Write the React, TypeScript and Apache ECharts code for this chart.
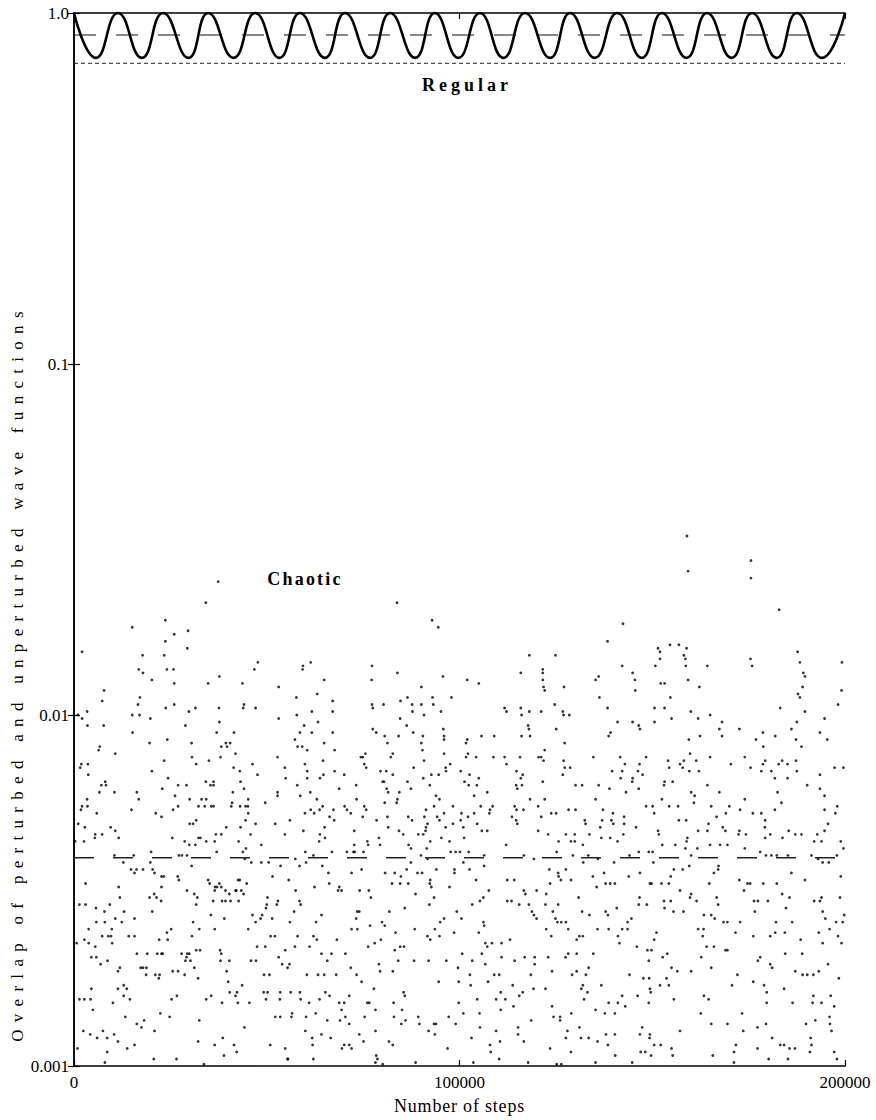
import React, { useEffect, useRef } from "react";
import * as echarts from "echarts";

// ---------- data ----------
const xTickLabels = ["0", "100000", "200000"];
const yTickLabels: Record<string, string> = { "0": "1.0", "-1": "0.1", "-2": "0.01", "-3": "0.001" };

// Regular trajectory: successive maxima / minima (in thousands of steps)
const regularStepsK = [
  0, 5.7, 11.4, 17.6, 23.1, 29.7, 34.8, 41.4, 47.0, 53.3, 58.6, 65.1, 70.3, 76.8, 82.0, 88.5, 93.6,
  99.7, 105.3, 111.4, 117.0, 123.5, 128.7, 135.1, 140.9, 147.3, 152.5, 158.9, 164.2, 170.6, 175.9,
  182.3, 187.5, 194.0, 200,
];
const regularOverlap = [
  1.0, 0.745, 1.0, 0.745, 1.0, 0.745, 1.0, 0.745, 1.0, 0.745, 1.0, 0.745, 1.0, 0.745, 1.0, 0.745, 1.0,
  0.745, 1.0, 0.745, 1.0, 0.745, 1.0, 0.745, 1.0, 0.745, 1.0, 0.745, 1.0, 0.745, 1.0, 0.745, 1.0, 0.745, 1.0,
];
const regularMean = 0.866;
const regularFloor = 0.719;
const chaoticMean = 0.00392;

// Chaotic trajectory: [steps / 1000, log10(overlap)]
const chaoticSamples: [number, number][] = [
  [37.4,-1.62],[34.2,-1.68],[83.8,-1.68],[159.0,-1.49],[175.6,-1.56],[159.3,-1.59],[175.6,-1.61],[182.9,-1.70],
  [23.7,-1.73],[15.1,-1.75],[29.6,-1.76],[26.0,-1.77],[23.7,-1.79],[29.4,-1.81],[2.1,-1.82],[17.8,-1.83],[23.4,-1.83],[47.7,-1.85],[16.8,-1.87],[25.8,-1.87],[46.8,-1.87],[24.1,-1.87],[17.9,-1.88],[20.2,-1.90],[37.7,-1.89],[26.0,-1.91],[34.8,-1.91],[43.7,-1.91],[7.8,-1.93],[17.1,-1.95],[7.3,-1.96],[16.6,-1.97],[44.1,-1.97],[26.0,-1.97],[31.5,-1.98],[37.6,-1.98],[23.8,-1.98],[29.8,-1.99],[43.9,-1.98],[47.1,-1.98],[3.4,-1.99],[15.1,-2.00],[17.0,-2.00],[1.0,-2.00],[2.1,-2.01],[19.8,-2.01],[37.7,-2.02],[28.9,-2.03],[3.5,-2.03],[7.7,-2.03],[15.2,-2.05],[37.0,-2.05],[41.5,-2.05],[24.2,-2.07],[30.5,-2.08],[19.6,-2.08],[38.2,-2.09],[39.4,-2.08],[40.5,-2.08],[39.7,-2.09],[6.7,-2.09],[6.4,-2.10],[10.7,-2.11],[41.9,-2.11],[23.4,-2.13],[30.6,-2.12],[35.0,-2.13],[38.0,-2.12],[1.9,-2.14],[3.6,-2.14],[1.6,-2.15],[31.7,-2.14],[46.3,-2.14],[41.4,-2.15],[43.0,-2.16],[20.2,-2.16],[3.7,-2.17],[47.6,-2.17],[24.4,-2.18],[8.1,-2.19],[34.2,-2.19],[36.2,-2.19],[35.4,-2.20],[36.2,-2.20],[27.0,-2.20],[29.2,-2.20],[43.2,-2.19],[44.1,-2.21],[7.1,-2.20],[8.3,-2.20],[10.5,-2.22],[16.3,-2.22],[22.9,-2.21],[6.6,-2.22],[26.2,-2.23],[3.4,-2.24],[41.2,-2.22],[16.8,-2.24],[45.2,-2.24],[33.1,-2.24],[34.3,-2.24],[30.0,-2.24],[49.6,-2.25],[41.0,-2.25],[2.1,-2.26],[3.5,-2.26],[1.8,-2.27],[5.9,-2.28],[14.9,-2.27],[25.7,-2.27],[27.0,-2.26],[32.3,-2.26],[33.9,-2.26],[35.6,-2.26],[36.2,-2.26],[40.8,-2.26],[43.1,-2.26],[44.5,-2.26],[45.1,-2.26],[45.2,-2.28],[21.2,-2.28],[22.7,-2.29],[31.7,-2.30],[30.9,-2.31],[30.0,-2.31],[1.1,-2.31],[2.8,-2.32],[9.5,-2.32],[10.7,-2.33],[44.5,-2.30],[43.2,-2.32],[47.1,-2.31],[39.5,-2.32],[5.5,-2.34],[5.4,-2.35],[7.3,-2.34],[11.6,-2.35],[25.5,-2.35],[28.7,-2.36],[32.3,-2.35],[32.8,-2.35],[34.3,-2.36],[36.8,-2.34],[38.2,-2.34],[36.5,-2.36],[0.3,-2.36],[2.6,-2.36],[42.7,-2.36],[45.8,-2.34],[48.6,-2.37],[31.5,-2.37],[29.9,-2.37],[44.6,-2.38],[20.0,-2.39],[28.0,-2.40],[29.3,-2.40],[37.0,-2.39],[15.5,-2.40],[27.2,-2.40],[43.8,-2.39],[10.5,-2.40],[12.8,-2.42],[14.8,-2.44],[19.8,-2.42],[17.9,-2.44],[16.2,-2.44],[30.5,-2.43],[44.3,-2.41],[46.0,-2.42],[48.6,-2.42],[20.4,-2.44],[20.9,-2.45],[15.7,-2.45],[22.7,-2.46],[23.3,-2.46],[26.9,-2.46],[27.2,-2.47],[34.8,-2.47],[42.6,-2.47],[43.0,-2.47],[44.8,-2.48],[35.2,-2.48],[36.6,-2.49],[37.1,-2.49],[37.7,-2.48],[38.2,-2.49],[3.0,-2.48],[11.6,-2.49],[22.7,-2.49],[29.3,-2.50],[31.2,-2.51],[32.0,-2.52],[36.5,-2.50],[39.3,-2.50],[40.3,-2.51],[42.1,-2.50],[43.4,-2.50],[41.9,-2.50],[44.0,-2.51],[11.9,-2.52],[19.6,-2.52],[20.8,-2.51],[21.4,-2.52],[22.6,-2.53],[1.4,-2.54],[3.0,-2.54],[5.7,-2.55],[9.3,-2.54],[36.1,-2.53],[38.4,-2.53],[39.3,-2.53],[40.6,-2.53],[42.7,-2.53],[31.7,-2.54],[50.0,-2.54],[49.8,-2.55],[7.9,-2.56],[13.0,-2.56],[20.3,-2.56],[10.7,-2.58],[15.7,-2.58],[35.5,-2.57],[39.0,-2.58],[46.3,-2.57],[48.4,-2.58],[47.1,-2.59],[48.8,-2.57],[3.8,-2.61],[5.8,-2.59],[8.0,-2.59],[9.8,-2.61],[12.4,-2.59],[30.9,-2.59],[24.1,-2.62],[25.2,-2.61],[32.5,-2.61],[36.5,-2.61],[0.7,-2.65],[2.7,-2.64],[5.5,-2.66],[7.3,-2.63],[9.6,-2.63],[8.9,-2.63],[9.9,-2.65],[14.2,-2.63],[15.7,-2.63],[22.1,-2.64],[24.3,-2.64],[30.6,-2.63],[45.2,-2.61],[3.8,-2.65],[4.5,-2.69],[5.8,-2.69],[6.9,-2.71],[8.7,-2.70],[11.9,-2.72],[11.4,-2.73],[16.3,-2.68],[19.0,-2.68],[21.6,-2.68],[22.7,-2.68],[23.0,-2.68],[18.8,-2.72],[17.9,-2.72],[17.3,-2.72],[18.7,-2.74],[21.1,-2.74],[22.2,-2.74],[22.0,-2.75],[27.9,-2.68],[29.4,-2.68],[29.9,-2.68],[29.2,-2.69],[30.2,-2.70],[28.9,-2.70],[31.2,-2.72],[31.7,-2.67],[32.7,-2.67],[37.9,-2.67],[38.2,-2.68],[40.3,-2.70],[39.6,-2.73],[38.0,-2.70],[45.9,-2.70],[47.2,-2.70],[47.5,-2.66],[49.6,-2.66],[49.3,-2.74],[27.0,-2.73],[25.6,-2.73],[32.2,-2.75],[28.7,-2.74],[1.4,-2.81],[2.7,-2.81],[4.3,-2.81],[4.9,-2.84],[4.5,-2.78],[10.1,-2.82],[12.9,-2.77],[13.7,-2.78],[12.9,-2.80],[14.5,-2.81],[11.4,-2.78],[25.3,-2.81],[26.7,-2.80],[34.3,-2.81],[35.6,-2.80],[38.4,-2.82],[40.0,-2.76],[40.4,-2.79],[41.9,-2.80],[42.5,-2.82],[42.3,-2.79],[43.6,-2.77],[45.5,-2.82],[49.2,-2.79],[49.8,-2.81],[13.3,-2.86],[16.3,-2.88],[18.2,-2.87],[17.5,-2.89],[20.9,-2.90],[22.4,-2.85],[24.8,-2.86],[32.5,-2.87],[44.2,-2.89],[2.4,-2.90],[4.2,-2.91],[6.0,-2.92],[7.5,-2.90],[8.6,-2.92],[10.4,-2.91],[11.4,-2.93],[13.8,-2.95],[15.7,-2.94],[8.6,-2.96],[8.0,-2.99],[0.9,-2.95],[20.7,-2.98],[26.6,-2.98],[32.2,-2.93],[36.5,-2.94],[38.6,-2.92],[41.5,-2.94],[42.2,-2.96],[38.9,-2.97],[33.7,-2.995],
  [92.9,-1.73],[94.5,-1.75],[61.4,-1.85],[59.4,-1.86],[59.3,-1.87],[77.3,-1.86],[83.9,-1.88],[64.9,-1.90],[77.2,-1.90],[95.7,-1.89],[53.1,-1.92],[90.1,-1.92],[63.1,-1.94],[57.7,-1.95],[67.1,-1.96],[86.5,-1.95],[84.7,-1.96],[93.0,-1.95],[97.9,-1.95],[77.3,-1.97],[77.5,-1.98],[80.3,-1.97],[87.7,-1.97],[90.1,-1.97],[93.2,-1.97],[61.7,-1.99],[87.8,-1.99],[90.8,-2.00],[95.2,-1.99],[67.1,-1.99],[57.8,-2.00],[53.1,-2.01],[84.6,-2.01],[63.3,-2.02],[77.5,-2.04],[59.7,-2.03],[86.3,-2.03],[58.6,-2.05],[61.7,-2.05],[67.1,-2.05],[78.4,-2.05],[80.6,-2.06],[84.2,-2.06],[88.0,-2.05],[95.8,-2.04],[96.0,-2.06],[96.0,-2.07],[57.3,-2.07],[90.5,-2.06],[58.0,-2.09],[59.2,-2.09],[64.9,-2.08],[81.3,-2.08],[90.1,-2.08],[60.5,-2.10],[67.6,-2.10],[90.4,-2.10],[52.8,-2.12],[74.4,-2.12],[74.9,-2.12],[75.6,-2.11],[82.2,-2.12],[82.7,-2.11],[90.8,-2.13],[96.0,-2.11],[59.9,-2.14],[64.6,-2.13],[54.7,-2.15],[75.3,-2.14],[75.8,-2.15],[97.6,-2.14],[60.5,-2.16],[67.6,-2.16],[79.5,-2.16],[81.0,-2.16],[82.7,-2.17],[88.1,-2.15],[96.4,-2.15],[96.5,-2.16],[54.9,-2.18],[60.5,-2.18],[63.8,-2.18],[64.7,-2.17],[70.1,-2.17],[94.6,-2.17],[92.7,-2.17],[90.6,-2.18],[57.9,-2.20],[80.1,-2.19],[80.4,-2.19],[81.1,-2.21],[81.5,-2.22],[73.2,-2.20],[68.8,-2.21],[86.5,-2.19],[87.4,-2.21],[92.3,-2.20],[52.8,-2.22],[52.8,-2.23],[61.3,-2.22],[58.7,-2.23],[84.4,-2.22],[93.9,-2.23],[63.0,-2.24],[73.3,-2.24],[83.9,-2.24],[83.7,-2.25],[80.6,-2.25],[94.8,-2.24],[61.4,-2.27],[64.5,-2.26],[62.3,-2.28],[63.7,-2.27],[67.3,-2.27],[70.2,-2.26],[70.8,-2.27],[71.8,-2.28],[75.3,-2.26],[75.8,-2.27],[74.9,-2.29],[59.9,-2.28],[66.3,-2.29],[91.3,-2.27],[93.4,-2.26],[98.3,-2.26],[56.0,-2.30],[67.5,-2.30],[78.5,-2.30],[81.3,-2.29],[86.7,-2.29],[87.7,-2.30],[90.9,-2.29],[94.2,-2.29],[94.8,-2.30],[96.0,-2.28],[52.2,-2.31],[65.0,-2.32],[81.5,-2.32],[91.7,-2.31],[91.3,-2.32],[96.4,-2.32],[98.3,-2.31],[59.5,-2.33],[54.7,-2.34],[72.7,-2.33],[84.3,-2.33],[85.4,-2.34],[89.3,-2.34],[90.6,-2.34],[91.2,-2.33],[63.8,-2.34],[65.1,-2.35],[79.1,-2.35],[63.6,-2.36],[72.7,-2.37],[76.1,-2.36],[79.4,-2.37],[86.8,-2.37],[87.4,-2.38],[92.4,-2.36],[95.3,-2.35],[97.4,-2.36],[99.0,-2.39],[97.7,-2.39],[60.0,-2.39],[62.1,-2.40],[66.9,-2.39],[70.8,-2.39],[72.5,-2.39],[72.8,-2.39],[75.1,-2.39],[76.3,-2.37],[91.5,-2.38],[90.0,-2.40],[50.5,-2.42],[53.6,-2.43],[57.4,-2.41],[58.5,-2.43],[60.2,-2.42],[64.4,-2.43],[66.0,-2.45],[72.0,-2.45],[74.6,-2.44],[80.7,-2.45],[83.2,-2.45],[84.8,-2.46],[86.3,-2.44],[87.4,-2.42],[89.1,-2.45],[90.3,-2.45],[91.7,-2.41],[94.0,-2.44],[98.7,-2.44],[98.7,-2.45],[51.5,-2.46],[55.7,-2.47],[62.4,-2.49],[66.2,-2.48],[68.8,-2.49],[68.5,-2.50],[69.4,-2.50],[74.1,-2.50],[76.5,-2.50],[77.0,-2.52],[82.5,-2.48],[84.6,-2.48],[86.7,-2.48],[88.6,-2.51],[92.4,-2.47],[92.3,-2.48],[92.7,-2.49],[93.4,-2.52],[97.4,-2.49],[57.5,-2.50],[50.2,-2.52],[52.9,-2.53],[52.6,-2.54],[58.5,-2.53],[58.8,-2.54],[57.1,-2.56],[64.2,-2.57],[62.8,-2.59],[73.5,-2.56],[74.0,-2.56],[73.2,-2.58],[76.8,-2.60],[79.9,-2.59],[80.6,-2.60],[81.8,-2.56],[85.8,-2.55],[92.2,-2.54],[95.0,-2.59],[96.0,-2.58],[99.3,-2.56],[51.4,-2.58],[56.0,-2.59],[51.0,-2.63],[52.1,-2.63],[58.0,-2.63],[62.1,-2.63],[63.0,-2.64],[68.2,-2.64],[72.0,-2.61],[73.5,-2.61],[78.0,-2.65],[76.3,-2.66],[79.6,-2.64],[83.4,-2.62],[88.4,-2.61],[91.7,-2.63],[92.4,-2.64],[94.8,-2.63],[93.6,-2.61],[98.6,-2.62],[57.3,-2.66],[61.1,-2.66],[54.8,-2.67],[53.1,-2.69],[54.0,-2.71],[55.9,-2.71],[55.4,-2.72],[50.7,-2.74],[60.4,-2.74],[63.3,-2.74],[64.9,-2.74],[64.2,-2.68],[66.8,-2.68],[70.4,-2.68],[65.7,-2.70],[71.8,-2.72],[68.0,-2.74],[73.3,-2.74],[74.6,-2.76],[79.1,-2.71],[79.4,-2.73],[82.7,-2.73],[83.2,-2.67],[84.6,-2.66],[85.6,-2.66],[88.2,-2.70],[84.1,-2.70],[92.0,-2.70],[94.6,-2.76],[96.6,-2.70],[99.6,-2.72],[99.8,-2.76],[50.2,-2.79],[53.5,-2.79],[56.2,-2.79],[58.6,-2.79],[53.4,-2.81],[58.8,-2.81],[61.0,-2.82],[63.7,-2.81],[65.2,-2.79],[66.3,-2.80],[68.8,-2.82],[70.1,-2.82],[71.4,-2.80],[76.6,-2.82],[76.1,-2.82],[77.8,-2.78],[82.9,-2.82],[85.8,-2.80],[85.5,-2.79],[52.2,-2.86],[53.5,-2.86],[56.6,-2.85],[56.4,-2.86],[60.2,-2.86],[62.7,-2.85],[65.7,-2.87],[69.0,-2.87],[69.4,-2.84],[70.4,-2.86],[71.4,-2.88],[75.4,-2.86],[78.2,-2.84],[83.0,-2.86],[85.1,-2.84],[86.0,-2.87],[84.9,-2.88],[89.3,-2.86],[89.6,-2.88],[93.4,-2.88],[93.9,-2.88],[97.2,-2.86],[99.0,-2.88],[99.8,-2.82],[60.0,-2.90],[61.8,-2.92],[64.2,-2.91],[66.6,-2.92],[61.9,-2.94],[50.9,-2.94],[54.8,-2.95],[69.5,-2.95],[70.1,-2.94],[71.4,-2.94],[72.0,-2.95],[74.0,-2.91],[75.1,-2.93],[78.2,-2.90],[81.7,-2.93],[82.7,-2.94],[92.0,-2.90],[93.6,-2.91],[96.9,-2.95],[55.4,-2.98],[55.5,-2.98],[62.1,-2.98],[78.4,-2.97],[78.7,-2.98],[78.2,-2.99],[88.6,-2.99],[80.1,-2.995],
  [142.4,-1.74],[138.4,-1.79],[124.9,-1.83],[118.1,-1.83],[142.2,-1.86],[121.6,-1.87],[121.6,-1.88],[115.9,-1.88],[102.0,-1.90],[105.0,-1.91],[121.6,-1.90],[135.3,-1.90],[136.1,-1.89],[127.1,-1.92],[121.8,-1.92],[122.1,-1.93],[144.9,-1.88],[145.5,-1.90],[145.6,-1.93],[136.3,-1.95],[138.4,-1.98],[111.7,-1.98],[112.2,-1.99],[115.9,-1.98],[116.1,-2.00],[118.1,-1.99],[121.2,-1.99],[124.7,-1.97],[126.8,-1.99],[127.0,-2.00],[128.5,-2.00],[141.0,-2.02],[144.9,-2.02],[146.5,-2.03],[146.8,-2.04],[117.8,-2.03],[118.0,-2.04],[125.1,-2.04],[139.2,-2.05],[138.7,-2.06],[127.3,-2.08],[105.7,-2.06],[109.0,-2.06],[116.1,-2.06],[118.3,-2.06],[102.0,-2.07],[101.7,-2.08],[102.2,-2.11],[101.7,-2.12],[104.3,-2.12],[108.8,-2.12],[111.7,-2.12],[112.2,-2.14],[115.7,-2.12],[120.5,-2.12],[122.1,-2.10],[121.2,-2.12],[121.8,-2.13],[127.0,-2.13],[127.3,-2.15],[128.7,-2.15],[134.7,-2.12],[141.7,-2.12],[142.9,-2.14],[100.3,-2.16],[102.6,-2.17],[101.3,-2.19],[102.4,-2.20],[105.0,-2.18],[104.5,-2.20],[103.8,-2.23],[107.2,-2.22],[114.8,-2.16],[116.4,-2.17],[115.9,-2.18],[114.7,-2.20],[116.2,-2.20],[115.0,-2.21],[121.6,-2.19],[126.8,-2.17],[130.1,-2.20],[131.8,-2.20],[136.1,-2.20],[139.6,-2.16],[142.2,-2.16],[141.8,-2.18],[144.8,-2.19],[144.9,-2.18],[146.3,-2.16],[146.7,-2.14],[148.4,-2.12],[147.5,-2.17],[146.5,-2.21],[143.2,-2.22],[138.9,-2.21],[118.3,-2.24],[122.1,-2.24],[135.3,-2.24],[148.4,-2.26],[105.5,-2.26],[107.9,-2.27],[108.6,-2.26],[114.3,-2.26],[114.8,-2.27],[116.6,-2.27],[120.4,-2.26],[128.3,-2.27],[130.1,-2.27],[137.2,-2.27],[139.8,-2.28],[100.5,-2.28],[102.2,-2.29],[103.8,-2.28],[107.75,-2.28],[100.3,-2.30],[101.0,-2.32],[104.6,-2.31],[113.6,-2.29],[114.7,-2.30],[115.0,-2.31],[121.2,-2.29],[123.8,-2.28],[125.05,-2.28],[132.5,-2.30],[132.7,-2.31],[137.0,-2.30],[139.4,-2.30],[139.9,-2.31],[142.7,-2.29],[142.7,-2.31],[145.8,-2.32],[136.5,-2.32],[101.2,-2.35],[105.8,-2.33],[107.2,-2.33],[120.4,-2.33],[123.0,-2.34],[127.6,-2.34],[129.9,-2.34],[128.9,-2.36],[129.9,-2.36],[132.0,-2.37],[133.7,-2.34],[136.8,-2.35],[139.1,-2.35],[141.0,-2.36],[142.5,-2.34],[125.7,-2.36],[112.1,-2.37],[100.1,-2.39],[102.4,-2.39],[106.4,-2.40],[116.7,-2.40],[119.3,-2.41],[125.2,-2.39],[129.4,-2.40],[133.4,-2.40],[135.9,-2.41],[144.1,-2.40],[146.5,-2.39],[149.1,-2.39],[101.0,-2.42],[102.6,-2.44],[104.3,-2.47],[106.4,-2.43],[112.4,-2.47],[114.2,-2.47],[123.3,-2.44],[123.5,-2.48],[125.6,-2.45],[125.7,-2.46],[126.3,-2.47],[127.6,-2.44],[128.9,-2.47],[132.1,-2.42],[134.6,-2.46],[135.6,-2.49],[137.5,-2.45],[137.9,-2.48],[139.1,-2.48],[140.3,-2.48],[140.1,-2.42],[143.9,-2.46],[146.8,-2.45],[149.4,-2.48],[116.7,-2.50],[117.1,-2.51],[120.0,-2.50],[122.5,-2.51],[130.9,-2.52],[107.6,-2.50],[106.2,-2.52],[105.3,-2.53],[103.3,-2.54],[112.4,-2.53],[113.5,-2.53],[115.5,-2.54],[118.0,-2.54],[122.3,-2.54],[125.6,-2.54],[118.8,-2.56],[119.3,-2.57],[120.0,-2.58],[124.2,-2.56],[124.9,-2.58],[125.4,-2.59],[126.4,-2.59],[127.6,-2.59],[131.8,-2.56],[133.7,-2.57],[137.9,-2.56],[138.5,-2.57],[140.8,-2.55],[146.7,-2.52],[146.5,-2.54],[148.6,-2.54],[100.5,-2.58],[106.2,-2.59],[106.4,-2.60],[122.5,-2.61],[123.8,-2.63],[128.2,-2.61],[130.4,-2.64],[131.1,-2.63],[132.0,-2.63],[135.8,-2.61],[138.7,-2.61],[142.2,-2.61],[143.6,-2.61],[143.6,-2.59],[144.6,-2.58],[105.0,-2.62],[141.1,-2.63],[141.5,-2.65],[106.7,-2.65],[107.2,-2.66],[108.4,-2.65],[110.9,-2.65],[113.1,-2.64],[100.7,-2.68],[105.8,-2.68],[110.9,-2.69],[114.3,-2.70],[116.9,-2.69],[119.5,-2.69],[119.5,-2.71],[123.0,-2.69],[124.0,-2.73],[127.5,-2.69],[128.2,-2.68],[130.4,-2.68],[134.7,-2.68],[133.5,-2.72],[146.0,-2.66],[148.75,-2.67],[149.1,-2.70],[103.3,-2.70],[106.7,-2.71],[102.7,-2.74],[102.9,-2.77],[107.4,-2.76],[109.0,-2.74],[110.3,-2.74],[113.8,-2.77],[118.5,-2.74],[119.2,-2.78],[122.3,-2.78],[129.2,-2.74],[130.4,-2.73],[132.8,-2.74],[132.0,-2.77],[131.6,-2.78],[133.2,-2.79],[132.3,-2.81],[136.8,-2.77],[142.2,-2.80],[144.1,-2.74],[147.7,-2.75],[149.4,-2.78],[104.6,-2.81],[110.7,-2.79],[109.5,-2.81],[111.9,-2.81],[115.5,-2.80],[116.4,-2.79],[101.0,-2.85],[105.2,-2.85],[110.7,-2.84],[114.0,-2.83],[124.0,-2.83],[124.4,-2.86],[126.1,-2.86],[129.0,-2.85],[135.3,-2.84],[137.7,-2.85],[138.7,-2.82],[140.3,-2.85],[141.1,-2.82],[143.0,-2.83],[146.2,-2.80],[149.1,-2.82],[126.1,-2.87],[118.6,-2.87],[105.3,-2.89],[109.5,-2.90],[115.2,-2.89],[103.1,-2.92],[115.2,-2.91],[116.7,-2.93],[107.9,-2.94],[110.5,-2.93],[108.1,-2.96],[110.3,-2.98],[128.0,-2.90],[127.6,-2.92],[131.1,-2.89],[131.5,-2.92],[133.5,-2.92],[135.8,-2.93],[138.0,-2.91],[140.3,-2.91],[138.5,-2.94],[140.4,-2.97],[128.9,-2.96],[123.5,-2.95],[146.8,-2.91],[147.4,-2.89],[149.3,-2.92],[147.0,-2.96],[148.2,-2.96],[103.6,-2.99],[117.8,-2.99],[125.2,-2.995],[126.4,-2.995],[135.3,-2.99],[144.8,-2.99],
  [151.5,-1.81],[154.6,-1.80],[156.9,-1.80],[158.9,-1.81],[152.0,-1.82],[152.0,-1.84],[158.2,-1.83],[158.6,-1.84],[158.7,-1.86],[150.8,-1.86],[164.3,-1.86],[175.5,-1.84],[175.9,-1.86],[187.7,-1.82],[188.3,-1.85],[189.2,-1.88],[189.6,-1.89],[199.2,-1.85],[152.2,-1.91],[153.2,-1.91],[159.3,-1.90],[162.2,-1.92],[189.0,-1.92],[154.7,-1.95],[187.8,-1.94],[188.3,-1.95],[199.1,-1.93],[150.6,-1.98],[153.2,-1.98],[183.2,-1.98],[198.2,-1.97],[160.0,-1.99],[161.9,-2.01],[165.0,-2.00],[189.6,-1.99],[150.6,-2.02],[155.0,-2.01],[168.1,-2.02],[167.4,-2.04],[168.1,-2.06],[172.6,-2.04],[162.4,-2.06],[159.5,-2.07],[178.7,-2.05],[176.9,-2.07],[178.8,-2.09],[181.9,-2.06],[186.1,-2.04],[187.5,-2.02],[187.3,-2.07],[188.7,-2.09],[193.5,-2.05],[194.7,-2.01],[195.4,-2.07],[154.1,-2.13],[154.4,-2.15],[157.2,-2.14],[158.2,-2.13],[157.9,-2.15],[159.8,-2.11],[161.4,-2.13],[159.6,-2.16],[162.1,-2.16],[165.0,-2.12],[170.4,-2.14],[174.0,-2.12],[175.5,-2.15],[178.7,-2.14],[179.3,-2.13],[178.3,-2.16],[180.9,-2.16],[182.8,-2.14],[183.7,-2.13],[185.1,-2.14],[187.3,-2.13],[187.5,-2.16],[181.8,-2.18],[185.1,-2.18],[193.5,-2.17],[197.3,-2.15],[199.6,-2.15],[153.2,-2.19],[153.05,-2.20],[155.3,-2.19],[164.3,-2.20],[160.1,-2.22],[161.0,-2.23],[160.8,-2.25],[167.4,-2.22],[174.0,-2.24],[182.5,-2.22],[183.5,-2.25],[190.2,-2.20],[193.5,-2.21],[194.7,-2.23],[150.1,-2.26],[150.5,-2.28],[152.5,-2.24],[154.4,-2.26],[156.7,-2.26],[165.3,-2.26],[170.0,-2.26],[169.1,-2.28],[172.8,-2.27],[176.1,-2.28],[178.3,-2.28],[181.8,-2.27],[194.7,-2.27],[198.0,-2.26],[197.5,-2.28],[156.9,-2.30],[158.8,-2.30],[161.9,-2.33],[164.6,-2.31],[166.7,-2.29],[168.3,-2.32],[169.0,-2.33],[179.3,-2.30],[179.2,-2.32],[159.1,-2.35],[164.3,-2.33],[172.6,-2.33],[172.4,-2.34],[174.3,-2.34],[180.6,-2.34],[183.8,-2.35],[185.4,-2.33],[187.1,-2.34],[188.7,-2.34],[192.8,-2.34],[194.7,-2.33],[195.6,-2.31],[151.5,-2.33],[151.7,-2.34],[152.6,-2.37],[156.0,-2.37],[158.9,-2.36],[165.0,-2.37],[167.6,-2.37],[169.5,-2.37],[174.0,-2.38],[179.3,-2.35],[192.0,-2.36],[193.9,-2.36],[198.9,-2.36],[199.6,-2.38],[150.1,-2.39],[158.6,-2.38],[160.1,-2.40],[161.7,-2.38],[178.0,-2.39],[179.5,-2.40],[180.9,-2.40],[182.3,-2.40],[185.2,-2.40],[191.3,-2.40],[193.0,-2.41],[194.2,-2.42],[195.8,-2.42],[197.9,-2.40],[150.3,-2.42],[155.6,-2.44],[157.9,-2.44],[159.6,-2.43],[166.0,-2.45],[167.1,-2.44],[167.2,-2.43],[154.8,-2.46],[154.3,-2.48],[152.4,-2.48],[149.8,-2.48],[157.2,-2.50],[164.8,-2.48],[172.6,-2.47],[175.4,-2.48],[178.8,-2.48],[182.3,-2.48],[186.1,-2.45],[189.6,-2.47],[198.9,-2.46],[173.8,-2.50],[160.1,-2.51],[159.8,-2.52],[161.5,-2.53],[153.05,-2.53],[154.8,-2.53],[155.5,-2.56],[153.2,-2.55],[166.7,-2.52],[167.1,-2.54],[158.1,-2.56],[163.4,-2.57],[165.3,-2.57],[166.2,-2.58],[168.5,-2.59],[169.5,-2.59],[172.8,-2.59],[174.7,-2.48],[176.4,-2.53],[176.6,-2.56],[177.4,-2.53],[180.0,-2.53],[183.7,-2.51],[185.6,-2.52],[184.7,-2.55],[186.3,-2.59],[182.1,-2.59],[192.0,-2.53],[193.5,-2.53],[193.9,-2.52],[194.2,-2.56],[194.9,-2.58],[197.7,-2.59],[199.4,-2.59],[199.8,-2.57],[198.7,-2.52],[150.5,-2.64],[151.1,-2.62],[163.3,-2.61],[161.9,-2.61],[171.6,-2.62],[163.1,-2.63],[166.0,-2.66],[169.0,-2.67],[169.5,-2.67],[164.1,-2.66],[176.2,-2.63],[180.6,-2.63],[181.9,-2.62],[184.4,-2.62],[188.5,-2.64],[193.2,-2.62],[196.0,-2.61],[198.2,-2.63],[199.1,-2.65],[194.2,-2.65],[149.8,-2.67],[152.7,-2.69],[153.9,-2.68],[162.7,-2.69],[172.1,-2.74],[165.3,-2.72],[160.1,-2.73],[156.5,-2.73],[155.0,-2.72],[178.0,-2.69],[177.4,-2.70],[180.6,-2.71],[181.1,-2.72],[184.5,-2.68],[188.9,-2.68],[187.1,-2.73],[189.0,-2.74],[190.2,-2.74],[191.8,-2.74],[193.2,-2.73],[195.6,-2.71],[198.4,-2.75],[149.2,-2.75],[152.0,-2.77],[153.7,-2.75],[154.3,-2.77],[155.6,-2.81],[149.6,-2.79],[163.4,-2.80],[164.6,-2.81],[170.7,-2.77],[176.2,-2.76],[179.0,-2.77],[179.7,-2.79],[179.7,-2.82],[184.2,-2.78],[186.4,-2.82],[191.8,-2.80],[191.6,-2.82],[193.9,-2.82],[196.3,-2.80],[197.2,-2.83],[162.6,-2.85],[165.3,-2.88],[169.5,-2.88],[173.3,-2.85],[179.5,-2.88],[177.3,-2.89],[189.9,-2.88],[192.3,-2.87],[196.0,-2.86],[196.1,-2.88],[196.5,-2.90],[157.2,-2.90],[149.4,-2.91],[150.5,-2.94],[152.2,-2.94],[155.0,-2.95],[155.3,-2.97],[149.7,-2.97],[171.7,-2.94],[171.2,-2.96],[173.6,-2.90],[177.3,-2.95],[181.1,-2.92],[183.2,-2.94],[184.2,-2.94],[185.6,-2.95],[187.0,-2.95],[185.2,-2.98],[191.1,-2.92],[191.3,-2.94],[190.9,-2.96],[197.2,-2.96],[197.9,-2.98],[180.2,-2.98],[165.7,-2.97],[171.2,-2.99],
];

const yAxisTitle = "Overlap of perturbed and unperturbed wave functions";
const xAxisTitle = "Number of steps";
const regularLabel = "Regular";
const chaoticLabel = "Chaotic";

// ---------- component ----------
const FONT = "'Liberation Serif', 'DejaVu Serif', serif";

// typeset letter spacing of the original figure's labels (px)
const letterSpacing: Record<string, number> = {
  [yAxisTitle]: 7.3,
  [xAxisTitle]: 0.8,
  [regularLabel]: 4,
  [chaoticLabel]: 2.2,
};

export default function App() {
  const ref = useRef<HTMLDivElement>(null);

  useEffect(() => {
    const el = ref.current;
    if (!el) return;
    const chart = echarts.init(el, undefined, { renderer: "svg" });

    const axisLine = { show: true, lineStyle: { color: "#000", width: 1.5 } };
    const tick = { show: true, inside: true, length: 6, lineStyle: { color: "#000", width: 1.2 } };

    const option: any = {
      animation: false,
      backgroundColor: "#fff",
      textStyle: { fontFamily: FONT, color: "#000" },
      grid: { left: 74, right: 31, top: 13, bottom: 53, containLabel: false },
      xAxis: [
        {
          type: "value", min: 0, max: 200000, interval: 100000, position: "bottom",
          axisLine, axisTick: tick, splitLine: { show: false },
          axisLabel: {
            color: "#000", fontFamily: FONT, fontSize: 17, margin: 8,
            formatter: (v: number) => xTickLabels[Math.round(v / 100000)] ?? "",
          },
          name: xAxisTitle, nameLocation: "middle", nameGap: 31,
          nameTextStyle: { color: "#000", fontFamily: FONT, fontSize: 18 },
        },
        {
          type: "value", min: 0, max: 200000, interval: 100000, position: "top",
          axisLine, axisTick: tick, axisLabel: { show: false }, splitLine: { show: false },
        },
      ],
      yAxis: [
        {
          type: "log", logBase: 10, min: 0.001, max: 1, position: "left",
          axisLine, axisTick: tick, splitLine: { show: false }, minorTick: { show: false },
          axisLabel: {
            color: "#000", fontFamily: FONT, fontSize: 17, margin: 5,
            formatter: (v: number) => yTickLabels[String(Math.round(Math.log10(v)))] ?? "",
          },
        },
        {
          type: "log", logBase: 10, min: 0.001, max: 1, position: "right",
          axisLine, axisTick: tick, splitLine: { show: false }, axisLabel: { show: false },
        },
      ],
      series: [
        {
          type: "scatter", xAxisIndex: 0, yAxisIndex: 0, symbol: "circle", symbolSize: 2.8,
          itemStyle: { color: "#000" },
          data: chaoticSamples.map(([k, l]) => [k * 1000, Math.pow(10, l)]),
        },
        {
          type: "line", xAxisIndex: 0, yAxisIndex: 0, smooth: 0.5, showSymbol: false, clip: false,
          lineStyle: { color: "#000", width: 2.6 },
          data: regularStepsK.map((k, i) => [k * 1000, regularOverlap[i]]),
        },
        {
          type: "line", showSymbol: false, lineStyle: { color: "#111", width: 1.1, type: [22, 20] },
          data: [[0, regularMean], [200000, regularMean]],
        },
        {
          type: "line", showSymbol: false, lineStyle: { color: "#222", width: 1, type: [4, 3] },
          data: [[0, regularFloor], [200000, regularFloor]],
        },
        {
          type: "line", showSymbol: false, lineStyle: { color: "#222", width: 1.4, type: [20, 19] },
          data: [[0, chaoticMean], [200000, chaoticMean]],
        },
      ],
      graphic: [
        {
          type: "text", x: 467, y: 85,
          style: { text: regularLabel, fontFamily: FONT, fontSize: 18, fontWeight: "bold", fill: "#000", textAlign: "center", textVerticalAlign: "middle" },
        },
        {
          type: "text", x: 305, y: 579,
          style: { text: chaoticLabel, fontFamily: FONT, fontSize: 18, fontWeight: "bold", fill: "#000", textAlign: "center", textVerticalAlign: "middle" },
        },
        {
          type: "text", x: 17, y: 673, rotation: Math.PI / 2,
          style: { text: yAxisTitle, fontFamily: FONT, fontSize: 17, fill: "#000", textAlign: "center", textVerticalAlign: "middle" },
        },
      ],
    };

    const applySpacing = () => {
      el.querySelectorAll("text").forEach((t) => {
        const s = letterSpacing[t.textContent ?? ""];
        if (s !== undefined) t.setAttribute("letter-spacing", String(s));
      });
    };

    chart.on("finished", applySpacing);
    chart.setOption(option);
    applySpacing();
    const timer = window.setTimeout(applySpacing, 30);

    return () => {
      window.clearTimeout(timer);
      chart.dispose();
    };
  }, []);

  return <div ref={ref} style={{ position: "fixed", left: 0, top: 0, width: 876, height: 1120 }} />;
}
